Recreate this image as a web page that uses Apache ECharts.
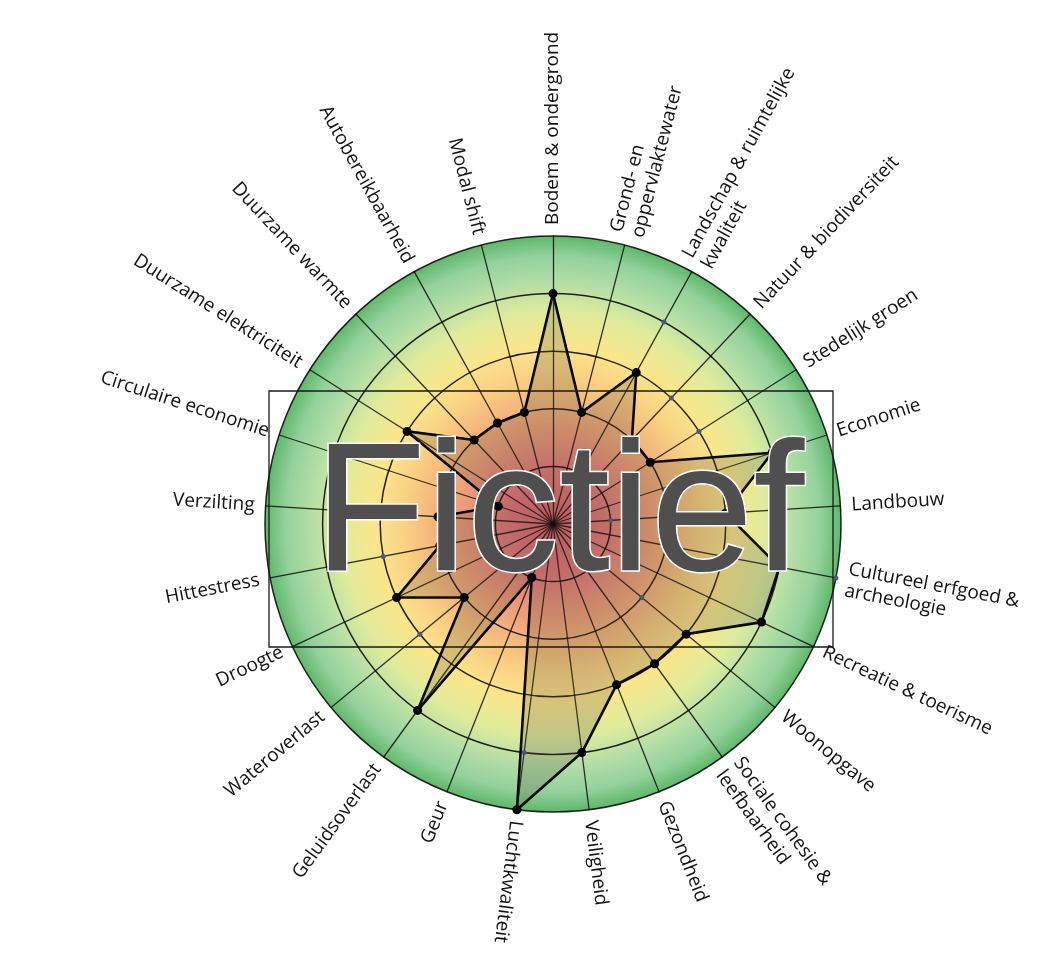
<!DOCTYPE html>
<html>
<head>
<meta charset="utf-8">
<script src="https://cdn.jsdelivr.net/npm/echarts/dist/echarts.min.js"></script>
<style>
html,body{margin:0;padding:0;background:#ffffff;}
#chart{width:1057px;height:955px;}
</style>
</head>
<body>
<div id="chart"></div>
<script>
// Categories, clockwise starting at the top
const categories = [
  "Bodem & ondergrond",
  "Grond- en\noppervlaktewater",
  "Landschap & ruimtelijke\nkwaliteit",
  "Natuur & biodiversiteit",
  "Stedelijk groen",
  "Economie",
  "Landbouw",
  "Cultureel erfgoed &\narcheologie",
  "Recreatie & toerisme",
  "Woonopgave",
  "Sociale cohesie &\nleefbaarheid",
  "Gezondheid",
  "Veiligheid",
  "Luchtkwaliteit",
  "Geur",
  "Geluidsoverlast",
  "Wateroverlast",
  "Droogte",
  "Hittestress",
  "Verzilting",
  "Circulaire economie",
  "Duurzame elektriciteit",
  "Duurzame warmte",
  "Autobereikbaarheid",
  "Modal shift"
];
// Main (black) series, same order
const scores = [4, 2, 3, 2, 2, 4, 3, 4, 4, 3, 3, 3, 4, 5, 1, 4, 2, 3, 2, 2, 1, 3, 2, 2, 2];
// Faint (blue-grey dot) series, same order
const referenceScores = [4, 2, 4, 3, 3, 4, 1, 5, 4, 2, 3, 3, 4, 4, 1, 4, 3, 3, 3, 2, 1, 3, 2, 2, 2];
const scaleMax = 5;
const ringCount = 5;
const watermark = "Fictief";

const chart = echarts.init(document.getElementById('chart'), null, {renderer: 'canvas'});
const cx = 553, cy = 524, R = 288;
const N = categories.length;

// ECharts radar runs counter-clockwise; reorder so that it reads clockwise
const order = [0];
for (let k = N - 1; k >= 1; k--) order.push(k);
const indicators = order.map(i => ({name: categories[i], min: 0, max: scaleMax}));
const mainData = order.map(i => scores[i]);
const refData = order.map(i => referenceScores[i]);

const bg = {
  type: 'radial', x: cx, y: cy, r: R, global: true,
  colorStops: [
    {offset: 0.00, color: '#d9606c'},
    {offset: 0.18, color: '#e2787a'},
    {offset: 0.36, color: '#f0a679'},
    {offset: 0.52, color: '#fad283'},
    {offset: 0.62, color: '#fbe68b'},
    {offset: 0.74, color: '#dfeb9c'},
    {offset: 0.84, color: '#b3dea6'},
    {offset: 0.93, color: '#93d19c'},
    {offset: 1.00, color: '#5fb86a'}
  ]
};

// Rotated radial labels
const labelGap = 11;
const graphics = [];
for (let i = 0; i < N; i++) {
  const deg = i * 360 / N;
  const a = deg * Math.PI / 180;
  const x = cx + (R + labelGap) * Math.sin(a);
  const y = cy - (R + labelGap) * Math.cos(a);
  const right = deg <= 190;
  const rot = right ? (90 - deg) : (270 - deg);
  graphics.push({
    type: 'text', x: x, y: y, rotation: rot * Math.PI / 180, z: 40,
    style: {
      text: categories[i],
      font: '19px "Open Sans"',
      fill: '#111111',
      align: right ? 'left' : 'right',
      verticalAlign: 'middle',
      lineHeight: 22
    }
  });
}
graphics.push({
  type: 'rect', z: 50,
  shape: {x: 269, y: 391, width: 564, height: 256},
  style: {fill: 'none', stroke: '#1a1a1a', lineWidth: 1.3}
});
graphics.push({
  type: 'text', x: 559, y: 519, z: 60,
  style: {
    text: watermark,
    font: '184px "Liberation Sans"',
    fill: '#4f4f4f',
    stroke: '#ffffff',
    lineWidth: 3,
    align: 'center',
    verticalAlign: 'middle',
    shadowColor: 'rgba(0,0,0,0.45)',
    shadowBlur: 8,
    shadowOffsetX: 3,
    shadowOffsetY: 3
  }
});

chart.setOption({
  backgroundColor: '#ffffff',
  animation: false,
  radar: {
    center: [cx, cy],
    radius: R,
    shape: 'circle',
    startAngle: 90,
    splitNumber: ringCount,
    indicator: indicators,
    axisName: {show: false},
    axisLine: {lineStyle: {color: 'rgba(0,0,0,0.78)', width: 1.3}},
    splitLine: {lineStyle: {color: 'rgba(0,0,0,0.85)', width: 1.5}},
    splitArea: {show: true, areaStyle: {color: [bg]}}
  },
  series: [
    {
      type: 'radar',
      z: 3,
      symbol: 'circle',
      symbolSize: 5,
      itemStyle: {color: '#4c5b7c'},
      lineStyle: {width: 0, opacity: 0},
      data: [{value: refData}]
    },
    {
      type: 'radar',
      z: 4,
      symbol: 'circle',
      symbolSize: 9,
      itemStyle: {color: '#000000'},
      lineStyle: {color: '#000000', width: 2.6},
      areaStyle: {color: 'rgba(80,70,50,0.3)'},
      data: [{value: mainData}]
    }
  ],
  graphic: graphics
});
</script>
</body>
</html>
